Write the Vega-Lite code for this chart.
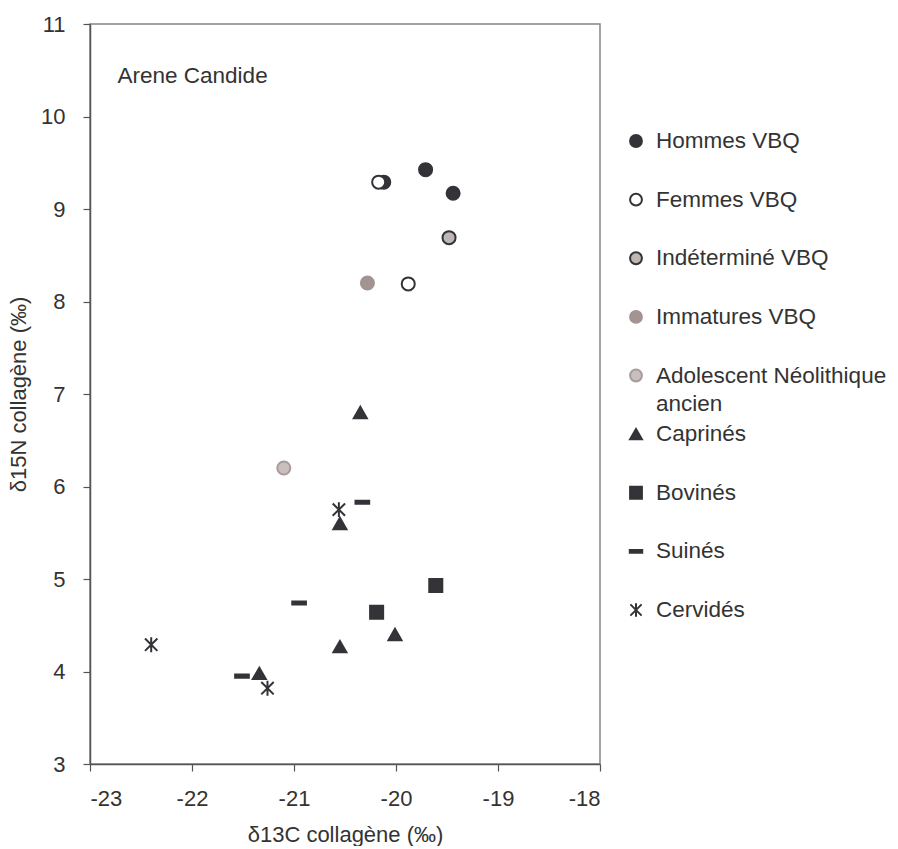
{
  "$schema": "https://vega.github.io/schema/vega-lite/v6.json",
  "padding": {"left": 6, "top": 12, "right": 0, "bottom": 0},
  "bounds": "flush",
  "spacing": 26,
  "background": "white",
  "config": {
    "font": "Liberation Sans",
    "view": {"stroke": null},
    "axis": {
      "domainColor": "#555555",
      "domainWidth": 1.5,
      "tickColor": "#555555",
      "tickWidth": 1.2,
      "tickSize": 7,
      "grid": false,
      "labelFont": "Liberation Sans",
      "labelFontSize": 22,
      "labelColor": "#333333",
      "titleFont": "Liberation Sans",
      "titleFontSize": 22,
      "titleFontWeight": "normal",
      "titleColor": "#333333"
    }
  },
  "resolve": {"scale": {"x": "independent", "y": "independent"}},
  "datasets": {
    "pts": [
      {"group": "Hommes VBQ", "d13C": -19.71, "d15N": 9.425},
      {"group": "Hommes VBQ", "d13C": -19.44, "d15N": 9.17},
      {"group": "Hommes VBQ", "d13C": -20.12, "d15N": 9.29},
      {"group": "Femmes VBQ", "d13C": -20.17, "d15N": 9.29},
      {"group": "Femmes VBQ", "d13C": -19.88, "d15N": 8.19},
      {"group": "Indéterminé VBQ", "d13C": -19.48, "d15N": 8.69},
      {"group": "Immatures VBQ", "d13C": -20.28, "d15N": 8.2},
      {"group": "Adolescent Néolithique ancien", "d13C": -21.10, "d15N": 6.2},
      {"group": "Caprinés", "d13C": -20.35, "d15N": 6.8},
      {"group": "Caprinés", "d13C": -20.55, "d15N": 5.6},
      {"group": "Caprinés", "d13C": -20.55, "d15N": 4.27},
      {"group": "Caprinés", "d13C": -20.01, "d15N": 4.4},
      {"group": "Caprinés", "d13C": -21.34, "d15N": 3.98},
      {"group": "Bovinés", "d13C": -19.61, "d15N": 4.93},
      {"group": "Bovinés", "d13C": -20.19, "d15N": 4.64},
      {"group": "Suinés", "d13C": -20.33, "d15N": 5.83},
      {"group": "Suinés", "d13C": -20.95, "d15N": 4.74},
      {"group": "Suinés", "d13C": -21.51, "d15N": 3.95},
      {"group": "Cervidés", "d13C": -20.56, "d15N": 5.75},
      {"group": "Cervidés", "d13C": -22.40, "d15N": 4.29},
      {"group": "Cervidés", "d13C": -21.26, "d15N": 3.82}
    ],
    "label": [
      {"text": "Arene Candide", "d13C": -22.73, "d15N": 10.44}
    ],
    "legend": [
      {"group": "Hommes VBQ", "label": "Hommes VBQ"},
      {"group": "Femmes VBQ", "label": "Femmes VBQ"},
      {"group": "Indéterminé VBQ", "label": "Indéterminé VBQ"},
      {"group": "Immatures VBQ", "label": "Immatures VBQ"},
      {"group": "Adolescent Néolithique ancien", "label": "Adolescent Néolithique\nancien"},
      {"group": "Caprinés", "label": "Caprinés"},
      {"group": "Bovinés", "label": "Bovinés"},
      {"group": "Suinés", "label": "Suinés"},
      {"group": "Cervidés", "label": "Cervidés"}
    ]
  },
  "hconcat": [
    {
      "width": 510,
      "height": 740,
      "view": {"stroke": "#8c8282", "strokeWidth": 1.5},
      "layer": [
        {
          "data": {"name": "pts"},
          "mark": {"type": "point", "filled": true, "strokeWidth": 2, "opacity": 1, "size": 170},
          "encoding": {
            "x": {
              "field": "d13C", "type": "quantitative",
              "scale": {"domain": [-23, -18], "nice": false, "zero": false},
              "axis": {"title": "δ13C collagène (‰)", "values": [-23, -22, -21, -20, -19, -18], "labelExpr": "'' + datum.value", "labelPadding": 17, "titlePadding": 15}
            },
            "y": {
              "field": "d15N", "type": "quantitative",
              "scale": {"domain": [3, 11], "nice": false, "zero": false},
              "axis": {"title": "δ15N collagène (‰)", "values": [3, 4, 5, 6, 7, 8, 9, 10, 11], "labelExpr": "'' + datum.value", "labelPadding": 18, "titlePadding": 10}
            },
            "shape": {
              "field": "group", "type": "nominal",
              "scale": {
                "domain": ["Hommes VBQ", "Femmes VBQ", "Indéterminé VBQ", "Immatures VBQ", "Adolescent Néolithique ancien", "Caprinés", "Bovinés", "Suinés", "Cervidés"],
                "range": ["circle", "circle", "circle", "circle", "circle", "triangle-up", "square", "M-1.05,-0.24H1.05V0.24H-1.05Z", "M-0.95,-0.95L0.95,0.95M-0.95,0.95L0.95,-0.95M0,-1.15V1.15"]
              },
              "legend": null
            },
            "fill": {
              "field": "group", "type": "nominal",
              "scale": {
                "domain": ["Hommes VBQ", "Femmes VBQ", "Indéterminé VBQ", "Immatures VBQ", "Adolescent Néolithique ancien", "Caprinés", "Bovinés", "Suinés", "Cervidés"],
                "range": ["#333338", "#ffffff", "#bfb7b4", "#a39391", "#c9c0be", "#333338", "#333338", "#333338", "#333338"]
              },
              "legend": null
            },
            "stroke": {
              "field": "group", "type": "nominal",
              "scale": {
                "domain": ["Hommes VBQ", "Femmes VBQ", "Indéterminé VBQ", "Immatures VBQ", "Adolescent Néolithique ancien", "Caprinés", "Bovinés", "Suinés", "Cervidés"],
                "range": ["#333338", "#333338", "#333338", "#a39391", "#a89c9a", "#333338", "#333338", "#333338", "#333338"]
              },
              "legend": null
            }
          }
        },
        {
          "data": {"name": "label"},
          "mark": {"type": "text", "align": "left", "baseline": "middle", "fontSize": 22.5, "color": "#333333", "font": "Liberation Sans"},
          "encoding": {
            "x": {"field": "d13C", "type": "quantitative"},
            "y": {"field": "d15N", "type": "quantitative"},
            "text": {"field": "text"}
          }
        }
      ]
    },
    {
      "width": 20,
      "height": 740,
      "view": {"stroke": null},
      "data": {"name": "legend"},
      "layer": [
        {
          "mark": {"type": "point", "filled": true, "strokeWidth": 2, "opacity": 1, "size": 140},
          "encoding": {
            "y": {
              "field": "group", "type": "nominal", "sort": null,
              "scale": {"type": "point", "padding": 0, "domain": ["Hommes VBQ", "Femmes VBQ", "Indéterminé VBQ", "Immatures VBQ", "Adolescent Néolithique ancien", "Caprinés", "Bovinés", "Suinés", "Cervidés"], "range": [117, 586]},
              "axis": null
            },
            "shape": {"field": "group", "type": "nominal", "legend": null},
            "fill": {"field": "group", "type": "nominal", "legend": null},
            "stroke": {"field": "group", "type": "nominal", "legend": null}
          }
        },
        {
          "mark": {"type": "text", "align": "left", "baseline": "middle", "dx": 20, "fontSize": 22.5, "lineHeight": 28, "lineBreak": "\n", "color": "#333333", "font": "Liberation Sans"},
          "encoding": {
            "y": {"field": "group", "type": "nominal", "sort": null, "axis": null},
            "text": {"field": "label"}
          }
        }
      ]
    }
  ]
}
